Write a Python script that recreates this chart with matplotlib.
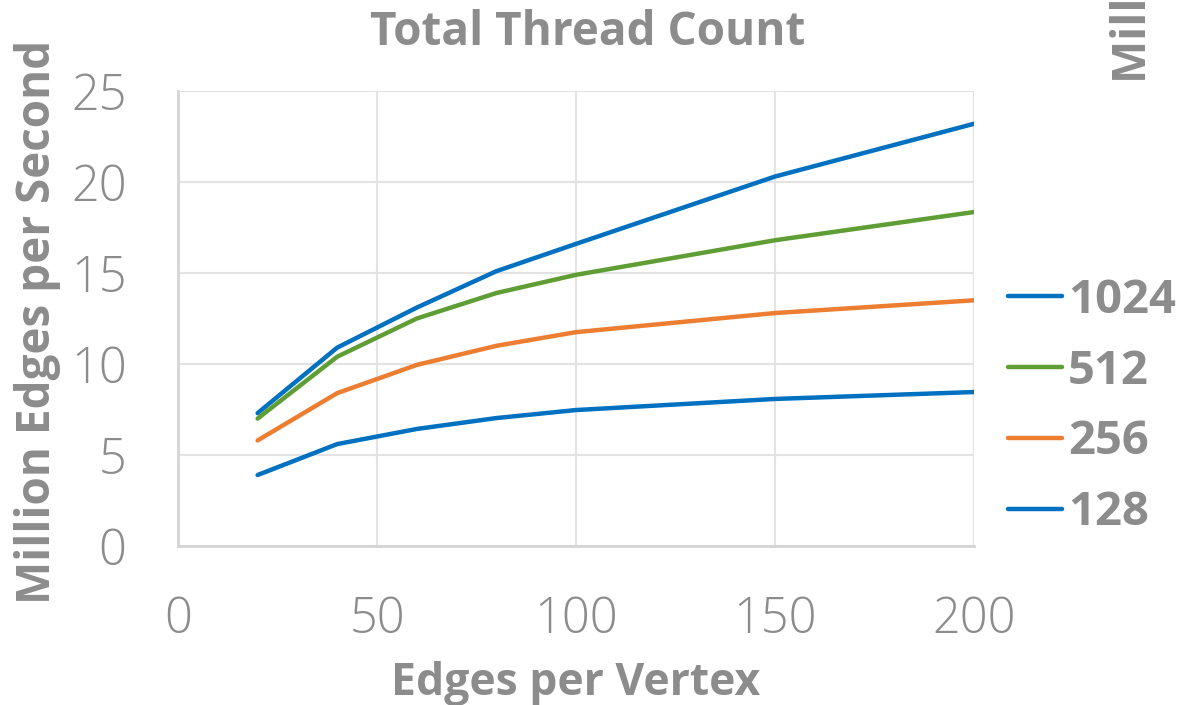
import matplotlib
matplotlib.use('Agg')
import matplotlib.pyplot as plt

# edges per vertex on the x axis
edges_per_vertex = [20, 40, 60, 80, 100, 150, 200]

# million edges per second, one list per thread count
threads_1024 = [7.3, 10.9, 13.1, 15.1, 16.6, 20.3, 23.2]
threads_512 = [7.0, 10.4, 12.5, 13.9, 14.9, 16.8, 18.35]
threads_256 = [5.8, 8.4, 9.95, 11.0, 11.75, 12.8, 13.5]
threads_128 = [3.9, 5.6, 6.43, 7.03, 7.47, 8.08, 8.46]

series_labels = ['1024', '512', '256', '128']
series_colors = ['#0070C0', '#5F9E35', '#ED7D31', '#0070C0']

x_ticks = [0, 50, 100, 150, 200]
y_ticks = [0, 5, 10, 15, 20, 25]

TEXT_GRAY = '#8C8C8C'
plt.rcParams['font.family'] = ['Open Sans', 'DejaVu Sans']

W, H = 1179, 705
fig = plt.figure(figsize=(W / 100, H / 100), dpi=100)
ax = fig.add_axes([178 / W, (H - 546) / H, (974 - 178) / W, (546 - 91) / H])

handles = []
for ys, lab, col in zip([threads_1024, threads_512, threads_256, threads_128],
                        series_labels, series_colors):
    line, = ax.plot(edges_per_vertex, ys, color=col, lw=3.2,
                    solid_capstyle='round', solid_joinstyle='round', label=lab, zorder=3)
    handles.append(line)

ax.set_xlim(0, 200)
ax.set_ylim(0, 25)
ax.set_xticks(x_ticks)
ax.set_yticks(y_ticks)
ax.grid(True, color='#E3E3E3', lw=1.5, zorder=0)
ax.set_axisbelow(True)
for side in ['top', 'right']:
    ax.spines[side].set_visible(False)
for side in ['left', 'bottom']:
    ax.spines[side].set_color('#D4D4D4')
    ax.spines[side].set_linewidth(2)
ax.tick_params(length=0, labelsize=35, labelcolor=TEXT_GRAY)
ax.tick_params(axis='x', pad=35)
ax.tick_params(axis='y', pad=37)
for t in ax.get_xticklabels() + ax.get_yticklabels():
    t.set_fontweight('light')

ax.set_xlabel('Edges per Vertex', fontsize=32, fontweight='bold', color=TEXT_GRAY, va='baseline')
ax.xaxis.set_label_coords(576 / W, 1 - 695 / H, transform=fig.transFigure)
ax.set_ylabel('Million Edges per Second', fontsize=33, fontweight='bold', color=TEXT_GRAY, va='center')
ax.yaxis.set_label_coords(38 / W, 1 - 322 / H, transform=fig.transFigure)
ax.set_title('Total Thread Count', fontsize=33, fontweight='bold', color=TEXT_GRAY, pad=33,
             x=(588 - 178) / (974 - 178))

# secondary axis title, cut off at the top edge
fig.text(1146 / W, 1 - 83 / H, 'Million Edges per Second', rotation=90, rotation_mode='anchor',
         ha='left', va='baseline', fontsize=33, fontweight='bold', color=TEXT_GRAY)

leg = fig.legend(handles=handles, loc='center left', bbox_to_anchor=(1008 / W, 1 - 406.5 / H),
                 frameon=False, handlelength=1.14, handletextpad=0.13, borderpad=0,
                 borderaxespad=0, labelspacing=0.507, prop={'weight': 'bold', 'size': 34})
for t in leg.get_texts():
    t.set_color(TEXT_GRAY)

fig.savefig('out.png', dpi=100)
